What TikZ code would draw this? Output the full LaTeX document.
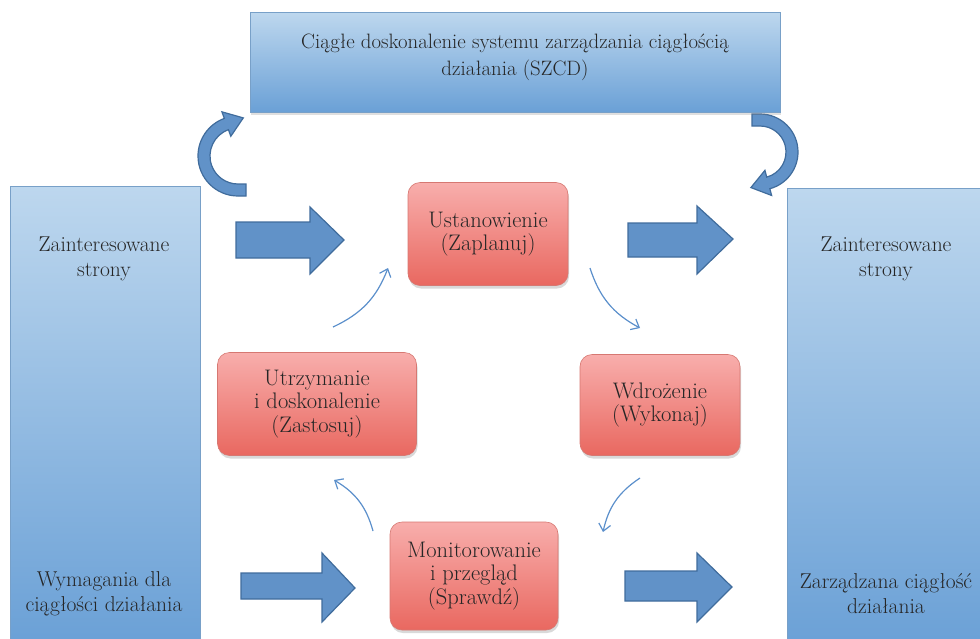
\documentclass[tikz,border=0pt]{standalone}
\usepackage{fontspec}
\usetikzlibrary{arrows.meta,shadows,calc}

\definecolor{bandfill}{RGB}{97,146,200}
\definecolor{bandedge}{RGB}{64,108,156}
\definecolor{paleblue}{RGB}{189,215,238}
\definecolor{midblue}{RGB}{106,160,214}
\definecolor{blueedge}{RGB}{120,160,200}
\definecolor{pinktop}{RGB}{248,174,172}
\definecolor{pinkbot}{RGB}{233,104,96}
\definecolor{pinkedge}{RGB}{214,120,114}
\definecolor{inkcol}{RGB}{38,38,38}
\definecolor{thinarrow}{RGB}{91,143,203}

\begin{document}
\begin{tikzpicture}[x=1pt,y=-1pt,
  bluebox/.style={draw=blueedge, line width=0.8pt, top color=paleblue, bottom color=midblue,
    drop shadow={shadow xshift=1pt, shadow yshift=-3pt, opacity=0.25}},
  stagebox/.style={draw=pinkedge, line width=0.6pt, rounded corners=12pt, top color=pinktop, bottom color=pinkbot,
    drop shadow={shadow xshift=1pt, shadow yshift=-3pt, opacity=0.3},
    align=center, text=inkcol, font=\fontsize{22.5}{23.5}\selectfont},
  label/.style={align=center, text=inkcol, font=\fontsize{21.5}{25}\selectfont},
  fatarrow/.style={fill=bandfill, draw=bandedge, line width=1.2pt, line join=miter},
  band/.style={fill=bandfill, draw=bandedge, line width=1.2pt},
  cycle arrow/.style={draw=thinarrow, line width=1.2pt, -{Straight Barb[length=7pt,width=12pt]}, bend right=22}
]
\useasboundingbox (0,0) rectangle (980,638);

% curved arrows around the improvement box
\coordinate (lc) at (238,156);
\path[band] (246,196) -- ($(lc)+(90:40)$) arc[start angle=90, end angle=250, radius=40]
  -- ($(lc)+(250:47)$) -- ($(lc)+(250:34)+(-20:18)$) -- ($(lc)+(250:21)$)
  -- ($(lc)+(250:28)$) arc[start angle=250, end angle=90, radius=28] -- (246,184) -- cycle;
\coordinate (rc) at (760,152);
\path[band] (752,114) -- ($(rc)+(270:38)$) arc[start angle=270, end angle=435, radius=38]
  -- ($(rc)+(75:45)$) -- ($(rc)+(75:32)+(165:18)$) -- ($(rc)+(75:19)$)
  -- ($(rc)+(75:26)$) arc[start angle=435, end angle=270, radius=26] -- (752,126) -- cycle;

% blue boxes
\node[bluebox, anchor=north west, minimum width=530pt, minimum height=100pt] (szcd) at (250,12) {};
\node[label, font=\fontsize{20.8}{27}\selectfont] (szcdtext) at (515,57)
  {Ciągłe doskonalenie systemu zarządzania ciągłością\\działania (SZCD)};

\node[bluebox, anchor=north west, minimum width=190pt, minimum height=460pt] (leftbox) at (10,186) {};
\node[label] (lefttop) at (104,259) {Zainteresowane\\strony};
\node[label] (leftbot) at (104,594) {Wymagania dla\\ciągłości działania};

\node[bluebox, anchor=north west, minimum width=200pt, minimum height=460pt] (rightbox) at (787,188) {};
\node[label] (righttop) at (886,259) {Zainteresowane\\strony};
\node[label] (rightbot) at (886,594) {Zarządzana ciągłość\\działania};

% wide arrows between the sides and the cycle
\path[fatarrow] (236,222) -- (310,222) -- (310,207) -- (344,240) -- (310,274) -- (310,258) -- (236,258) -- cycle;
\path[fatarrow] (241,573) -- (322,573) -- (322,553) -- (355,588) -- (322,622) -- (322,599) -- (241,599) -- cycle;
\path[fatarrow] (628,223) -- (697,223) -- (697,206) -- (733,239) -- (697,274) -- (697,257) -- (628,257) -- cycle;
\path[fatarrow] (625,571) -- (697,571) -- (697,553) -- (732,587) -- (697,622) -- (697,601) -- (625,601) -- cycle;

% stages of the cycle
\node[stagebox, minimum width=160pt, minimum height=103pt] (plan) at (488,234) {Ustanowienie\\(Zaplanuj)};
\node[stagebox, minimum width=160pt, minimum height=101pt] (do) at (660,405) {Wdrożenie\\(Wykonaj)};
\node[stagebox, minimum width=168pt, minimum height=108pt] (check) at (474,576) {Monitorowanie\\i przegląd\\(Sprawdź)};
\node[stagebox, minimum width=199pt, minimum height=103pt] (act) at (317,404) {Utrzymanie\\i doskonalenie\\(Zastosuj)};

% cycle arrows
\coordinate (p1) at (590,268);
\coordinate (d1) at (640,328);
\coordinate (d2) at (640,478);
\coordinate (c1) at (603,532);
\coordinate (c2) at (373,531);
\coordinate (a1) at (334,480);
\coordinate (a2) at (333,327);
\coordinate (p2) at (388,268);
\draw[cycle arrow] (p1) to (d1);
\draw[cycle arrow] (d2) to (c1);
\draw[cycle arrow] (c2) to (a1);
\draw[cycle arrow] (a2) to (p2);
\end{tikzpicture}
\end{document}
